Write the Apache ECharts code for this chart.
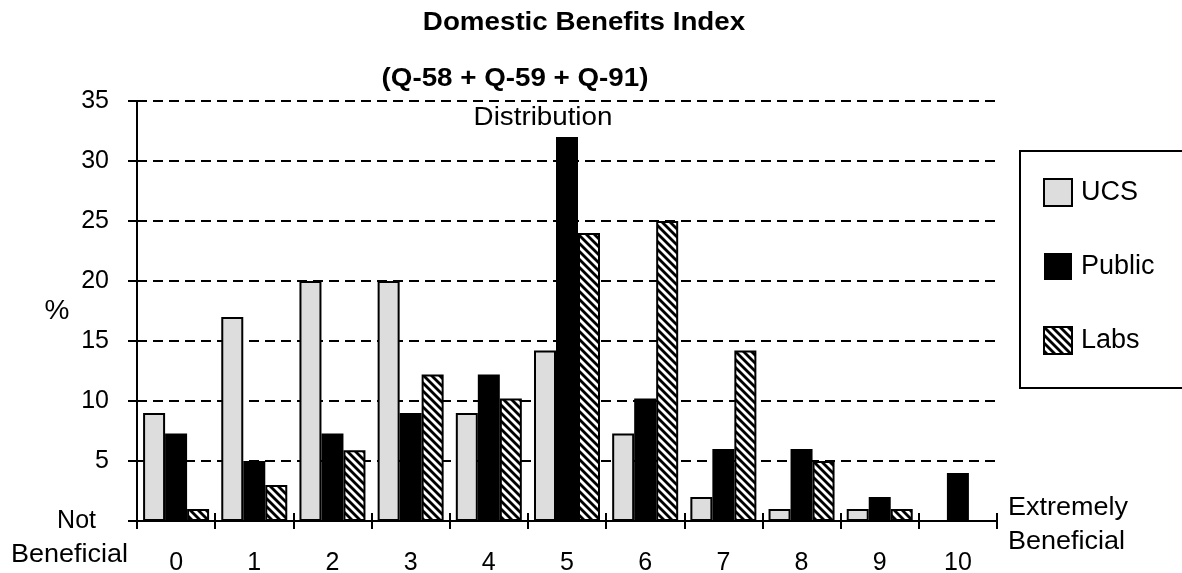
<!DOCTYPE html>
<html>
<head>
<meta charset="utf-8">
<script src="https://cdn.jsdelivr.net/npm/echarts@6/dist/echarts.min.js"></script>
<style>
html,body{margin:0;padding:0;background:#fff;}
#c{width:1182px;height:573px;}
</style>
</head>
<body>
<div id="c"></div>
<script>
const categories = ['0','1','2','3','4','5','6','7','8','9','10'];
const ucs    = [9, 17, 20, 20, 9, 14.2, 7.3, 2, 1, 1, 0];
const pub    = [7.3, 5, 7.3, 9, 12.2, 32, 10.2, 6, 6, 2, 4];
const labs   = [1, 3, 5.9, 12.2, 10.2, 24, 25, 14.2, 5, 1, 0];
const seriesNames = ['UCS', 'Public', 'Labs'];
const titleMain = 'Domestic Benefits Index';
const titleSub = '(Q-58 + Q-59 + Q-91)';
const titleDist = 'Distribution';
const lowLabel = 'Beneficial';
const highLabel = 'Extremely\nBeneficial';

function hatch() {
  const c = document.createElement('canvas');
  c.width = 8; c.height = 8;
  const g = c.getContext('2d');
  g.fillStyle = '#fff'; g.fillRect(0, 0, 8, 8);
  g.strokeStyle = '#000'; g.lineWidth = 2.8;
  [-8, 0, 8].forEach(function (x0) {
    g.beginPath(); g.moveTo(x0 - 1, -1); g.lineTo(x0 + 9, 9); g.stroke();
  });
  return c;
}

const FONT = 'Liberation Sans, Arial, sans-serif';
const chart = echarts.init(document.getElementById('c'));
function ttl(text, x, y, bold) {
  return {
    type: 'text', x: x, y: y, scaleX: 1.11, silent: true,
    style: { text: text, fill: '#000', align: 'center', verticalAlign: 'middle',
      font: (bold ? 'bold ' : '') + '25px ' + FONT }
  };
}
const option = {
  animation: false,
  backgroundColor: '#fff',
  textStyle: { fontFamily: FONT, color: '#000' },
  graphic: [
    ttl(titleMain, 584, 23, true),
    ttl(titleSub, 515, 79, true),
    ttl(titleDist, 543, 118, false),
    { type: 'text', x: 128, y: 555, scaleX: 1.08, silent: true,
      style: { text: lowLabel, fill: '#000', align: 'right', verticalAlign: 'middle', font: '25px ' + FONT } },
    { type: 'text', x: 1008, y: 491, scaleX: 1.08, silent: true,
      style: { text: highLabel, fill: '#000', align: 'left', verticalAlign: 'top', lineHeight: 34, font: '25px ' + FONT } }
  ],
  legend: {
    orient: 'vertical',
    left: 1020, top: 151,
    padding: [27, 80, 33, 23],
    borderColor: '#000', borderWidth: 2,
    itemWidth: 28, itemHeight: 27, itemGap: 46,
    icon: 'rect',
    textStyle: { fontFamily: FONT, fontSize: 27, color: '#000', padding: [0, 0, 0, 4] },
    data: seriesNames
  },
  grid: { left: 137, right: 185, top: 101, bottom: 52, containLabel: false, outerBoundsMode: 'none' },
  xAxis: [
    {
      type: 'category', data: categories, position: 'bottom',
      axisLine: { show: true, lineStyle: { color: '#000', width: 2 } },
      axisTick: { show: true, inside: false, length: 8, lineStyle: { color: '#000', width: 2 } },
      axisLabel: { fontFamily: FONT, fontSize: 25, color: '#000', margin: 30 }
    },
    {
      type: 'category', data: categories, position: 'bottom',
      axisLine: { show: false },
      axisTick: { show: true, inside: true, length: 8, lineStyle: { color: '#000', width: 2 } },
      axisLabel: { show: false },
      splitLine: { show: false }
    }
  ],
  yAxis: {
    type: 'value', min: 0, max: 35, interval: 5,
    axisLine: { show: true, lineStyle: { color: '#000', width: 2 } },
    axisTick: { show: true, length: 9, lineStyle: { color: '#000', width: 2 } },
    axisLabel: {
      fontFamily: FONT, fontSize: 25, color: '#000', margin: 28,
      formatter: function (v) { return v === 0 ? '{n|Not}' : String(v); },
      rich: { n: { fontFamily: FONT, fontSize: 25, color: '#000', padding: [0, 13, 0, 0] } }
    },
    splitLine: { show: true, lineStyle: { color: '#000', width: 2, type: [10, 6] } },
    name: '%', nameLocation: 'middle', nameRotate: 0, nameGap: 80, nameMoveOverlap: false,
    nameTextStyle: { fontFamily: FONT, fontSize: 28, color: '#000', align: 'center', verticalAlign: 'middle' }
  },
  series: [
    { name: seriesNames[0], type: 'bar', data: ucs, barWidth: 22, barGap: '0%',
      itemStyle: { color: '#dddddd', borderColor: '#000', borderWidth: 2 } },
    { name: seriesNames[1], type: 'bar', data: pub, barWidth: 22, barGap: '0%',
      itemStyle: { color: '#000', borderWidth: 0 } },
    { name: seriesNames[2], type: 'bar', data: labs, barWidth: 22, barGap: '0%',
      itemStyle: { color: { image: hatch(), repeat: 'repeat' }, borderColor: '#000', borderWidth: 2 } }
  ]
};
chart.setOption(option);
</script>
</body>
</html>
